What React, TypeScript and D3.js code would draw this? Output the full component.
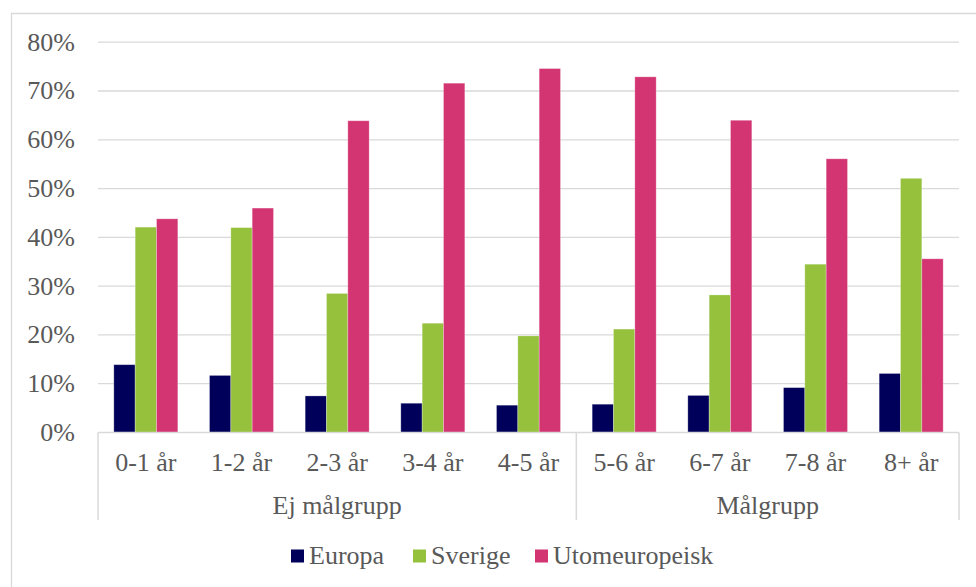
import React from "react";
import * as d3 from "d3";

// Age bands and the two groups they belong to
const categories = ["0-1 år", "1-2 år", "2-3 år", "3-4 år", "4-5 år", "5-6 år", "6-7 år", "7-8 år", "8+ år"];
const groups = [
  { name: "Ej målgrupp", from: 0, to: 4 },
  { name: "Målgrupp", from: 5, to: 8 },
];

const seriesNames = ["Europa", "Sverige", "Utomeuropeisk"];
const seriesColors = ["#00005a", "#95c13d", "#d33472"];

// Share per age band (%)
const europa = [13.9, 11.7, 7.5, 6.0, 5.6, 5.8, 7.6, 9.2, 12.1];
const sverige = [42.1, 42.0, 28.5, 22.4, 19.8, 21.2, 28.2, 34.5, 52.1];
const utomeuropeisk = [43.8, 46.0, 63.9, 71.6, 74.6, 72.9, 64.0, 56.1, 35.6];
const seriesValues = [europa, sverige, utomeuropeisk];

const yTicks = [0, 10, 20, 30, 40, 50, 60, 70, 80];

const W = 976;
const H = 587;
const plot = { left: 98, right: 959, top: 42.2, bottom: 432.5 };
const FONT = "'Liberation Serif', 'Times New Roman', serif";
const TEXT = "#595959";
const LINE = "#d9d9d9";

export default function App() {
  const x = d3
    .scaleBand<string>()
    .domain(categories)
    .range([plot.left, plot.right])
    .paddingInner(0.331)
    .paddingOuter(0.1655);
  const step = x.step();
  const xs = d3
    .scaleBand<string>()
    .domain(seriesNames)
    .range([0, x.bandwidth()]);
  const y = d3.scaleLinear().domain([0, 80]).range([plot.bottom, plot.top]);

  const catEdge = (i: number) => plot.left + step * i;
  const axisBottom = 520;
  const legendX = [291, 413, 535];
  const legendY = 556;

  return (
    <svg
      width={W}
      height={H}
      style={{ position: "absolute", left: 0, top: 0, background: "#fff" }}
      fontFamily={FONT}
    >
      {/* chart frame */}
      <path d={`M11.5,${H} V13.5 H${W}`} fill="none" stroke={LINE} strokeWidth={1.3} />

      {/* gridlines and y tick labels */}
      {yTicks.map((t) => (
        <g key={t}>
          {t > 0 && (
            <line x1={plot.left} x2={plot.right} y1={y(t)} y2={y(t)} stroke={LINE} strokeWidth={1.3} />
          )}
          <text
            x={75}
            y={y(t)}
            textAnchor="end"
            dominantBaseline="central"
            fontSize={26}
            fill={TEXT}
          >
            {`${t}%`}
          </text>
        </g>
      ))}

      {/* bars */}
      {seriesNames.map((s, si) => (
        <g key={s}>
          {categories.map((c, ci) => {
            const v = seriesValues[si][ci];
            return (
              <rect
                key={c}
                x={(x(c) as number) + (xs(s) as number)}
                y={y(v)}
                width={xs.bandwidth()}
                height={y(0) - y(v)}
                fill={seriesColors[si]}
                stroke="#ffffff"
                strokeOpacity={0.35}
                strokeWidth={0.8}
              />
            );
          })}
        </g>
      ))}

      {/* category axis */}
      <line x1={plot.left} x2={plot.right} y1={plot.bottom} y2={plot.bottom} stroke={LINE} strokeWidth={1.5} />
      {[0, 5, 9].map((i) => (
        <line
          key={i}
          x1={catEdge(i)}
          x2={catEdge(i)}
          y1={plot.bottom}
          y2={axisBottom}
          stroke={LINE}
          strokeWidth={1.5}
        />
      ))}
      {categories.map((c) => (
        <text
          key={c}
          x={(x(c) as number) + x.bandwidth() / 2}
          y={471}
          textAnchor="middle"
          fontSize={26}
          fill={TEXT}
        >
          {c}
        </text>
      ))}
      {groups.map((g) => (
        <text
          key={g.name}
          x={(catEdge(g.from) + catEdge(g.to + 1)) / 2}
          y={514}
          textAnchor="middle"
          fontSize={26}
          fill={TEXT}
        >
          {g.name}
        </text>
      ))}

      {/* legend */}
      {seriesNames.map((s, i) => (
        <g key={s} transform={`translate(${legendX[i]},${legendY})`}>
          <rect x={0} y={-6.5} width={13} height={13} fill={seriesColors[i]} />
          <text x={18} y={8.3} fontSize={26} fill={TEXT}>
            {s}
          </text>
        </g>
      ))}
    </svg>
  );
}
